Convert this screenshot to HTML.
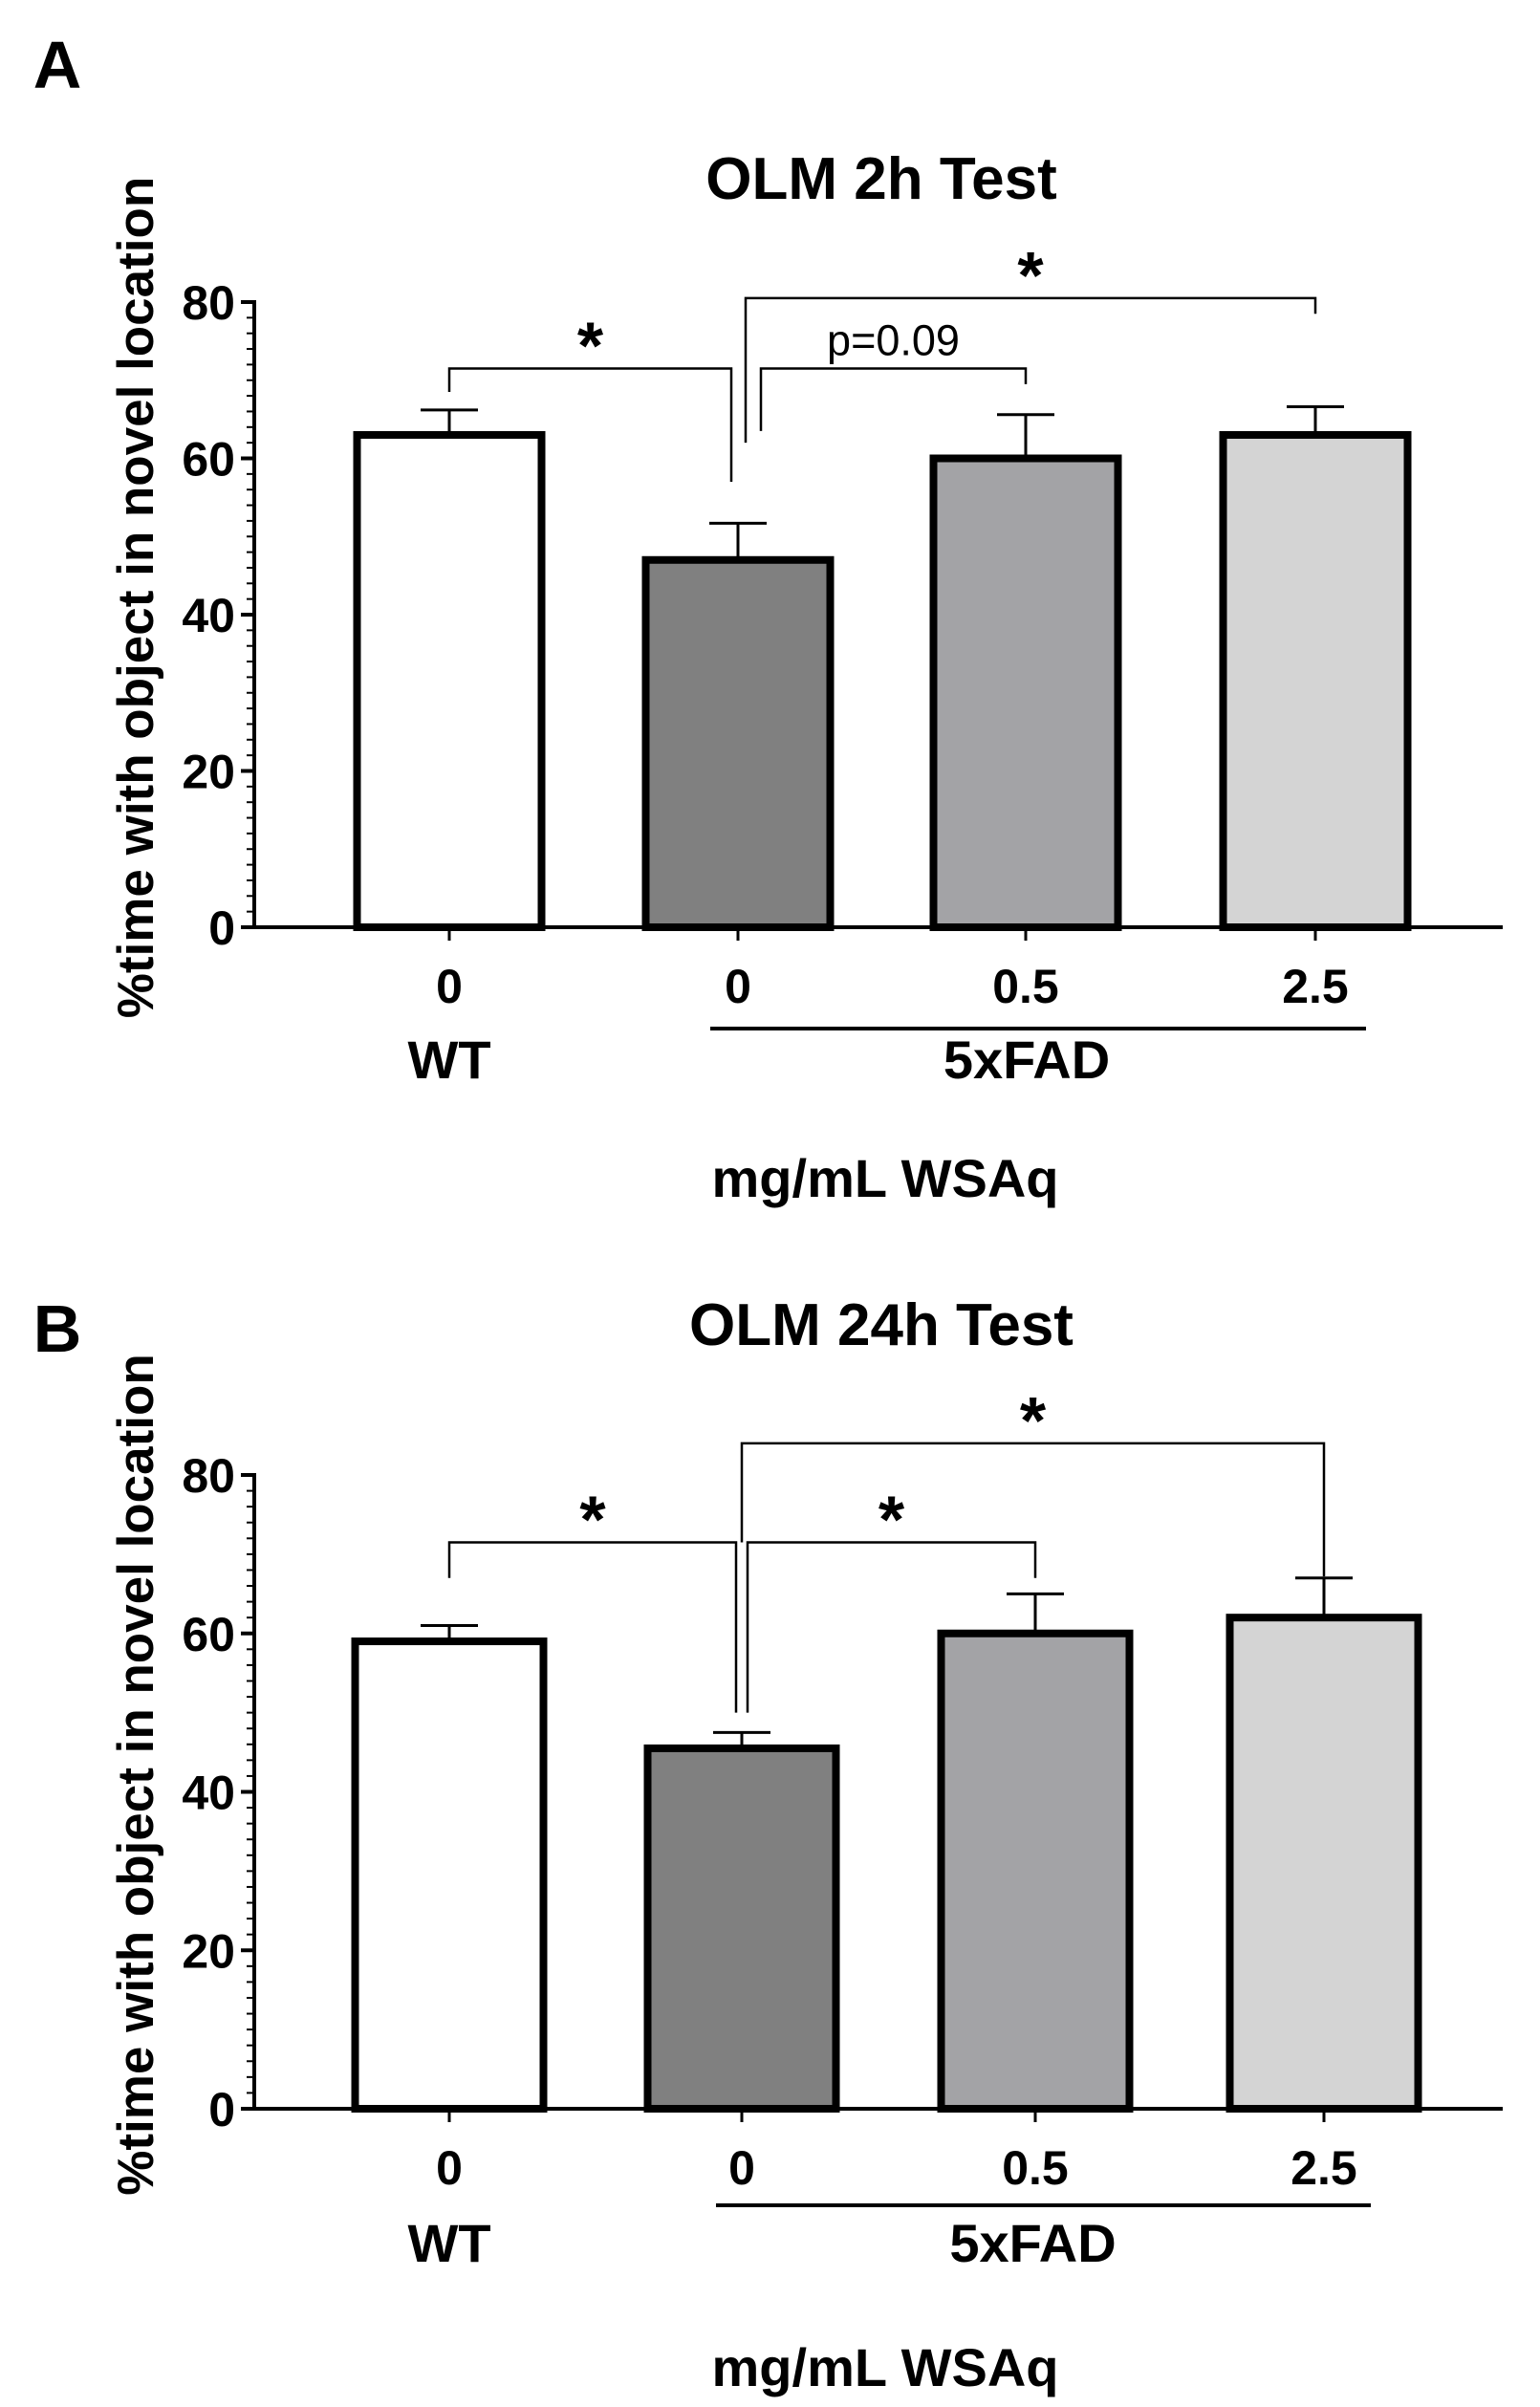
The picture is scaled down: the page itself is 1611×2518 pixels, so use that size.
<!DOCTYPE html>
<html><head><meta charset="utf-8">
<style>
html,body{margin:0;padding:0;background:#fff;}
svg{display:block;font-family:"Liberation Sans",Arial,sans-serif;}
</style></head>
<body>
<svg id="fig" width="1611" height="2518" viewBox="0 0 1611 2518" xmlns="http://www.w3.org/2000/svg">
<rect width="1611" height="2518" fill="#fff"/>
</svg>
<script>
const categories = ["0","0","0.5","2.5"];
const fills = ["#ffffff","#808080","#a3a3a6","#d4d4d4"];
const yTicks = [0,20,40,60,80];
const meansA = [63,47,60,63];
const errA = [66.2,51.7,65.6,66.6];
const meansB = [59,45.5,60,62];
const errB = [61,47.5,65,67];
// brackets: [fromIdx, toIdx, level, leftDrop, rightDrop, label]
const bracketsA = [[0,1,71.5,68.5,57,"*"],[1,2,71.5,63.5,69.5,"p=0.09"],[1,3,80.5,62,78.5,"*"]];
const bracketsB = [[0,1,71.5,67,50,"*"],[1,2,71.5,50,67,"*"],[1,3,84,71.5,67.2,"*"]];

const NS="http://www.w3.org/2000/svg";
const svg=document.getElementById('fig');
function mk(tag,attrs,parent,text){const e=document.createElementNS(NS,tag);for(const k in attrs)e.setAttribute(k,attrs[k]);if(text!==undefined)e.textContent=text;(parent||svg).appendChild(e);return e;}

function panel(cfg){
  const g=mk('g',{});
  
  
  const y=v=>cfg.y0-(v/80)*(cfg.y0-cfg.y80);
  const x=i=>cfg.centers[i];
  const L=mk('text',{x:60,y:cfg.letterY,'font-size':70,'font-weight':'bold','text-anchor':'middle'},g,cfg.letter);
  
  
  const t=mk('text',{x:922,y:cfg.titleY,'font-size':62,'font-weight':'bold','text-anchor':'middle'},g,cfg.title);
  
  
  const ya=mk('line',{x1:266,y1:y(80)-2,x2:266,y2:y(0)+2,stroke:'#000','stroke-width':4},g);
  
  
  for(let v=0;v<=80;v+=2){
    const major=yTicks.includes(v);
    mk('line',{x1:major?252:258,y1:y(v),x2:266,y2:y(v),stroke:'#000','stroke-width':major?4:2},g);
  }
  yTicks.forEach(v=>{
    const tl=mk('text',{x:246,y:y(v)+18,'font-size':50,'font-weight':'bold','text-anchor':'end'},g,String(v));
    
    
  });
  const yt=mk('text',{x:0,y:0,'font-size':53,'font-weight':'bold','text-anchor':'middle',transform:`translate(160,${(y(0)+y(80))/2-18}) rotate(-90)`},g,'%time with object in novel location');
  
  
  cfg.means.forEach((m,i)=>{
    const w=cfg.bw;
    const eb=mk('line',{x1:x(i),y1:y(m),x2:x(i),y2:y(cfg.err[i]),stroke:'#000','stroke-width':3},g);
    
    
    mk('line',{x1:x(i)-30,y1:y(cfg.err[i]),x2:x(i)+30,y2:y(cfg.err[i]),stroke:'#000','stroke-width':3},g);
    const b=mk('rect',{x:x(i)-w/2,y:y(m),width:w,height:y(0)-y(m),fill:fills[i],stroke:'#000','stroke-width':8},g);
    
    
    mk('line',{x1:x(i),y1:y(0),x2:x(i),y2:y(0)+14,stroke:'#000','stroke-width':3},g);
    const cl=mk('text',{x:x(i),y:cfg.tickY,'font-size':50,'font-weight':'bold','text-anchor':'middle'},g,categories[i]);
    
    
  });
  const xa=mk('line',{x1:264,y1:y(0),x2:1572,y2:y(0),stroke:'#000','stroke-width':4},g);
  
  
  const gl=mk('line',{x1:cfg.lineX1,y1:cfg.lineY,x2:cfg.lineX2,y2:cfg.lineY,stroke:'#000','stroke-width':4},g);
  
  
  const wt=mk('text',{x:x(0),y:cfg.groupY,'font-size':56,'font-weight':'bold','text-anchor':'middle'},g,'WT');
  
  
  const fd=mk('text',{x:(x(1)+x(3))/2,y:cfg.groupY,'font-size':56,'font-weight':'bold','text-anchor':'middle'},g,'5xFAD');
  
  
  const xt=mk('text',{x:926,y:cfg.xTitleY,'font-size':56,'font-weight':'bold','text-anchor':'middle'},g,'mg/mL WSAq');
  
  
  cfg.brackets.forEach((br,k)=>{
    const xl=x(br[0])+cfg.bOff[k][0], xr=x(br[1])+cfg.bOff[k][1];
    const p=mk('path',{d:`M${xl},${y(br[3])} V${y(br[2])} H${xr} V${y(br[4])}`,fill:'none',stroke:'#000','stroke-width':2.5},g);
    
    
    const star=br[5]==='*';
    const lx=(xl+xr)/2;
    const lt=mk('text',{x:lx,y:y(br[2])-(star?0:14),'font-size':star?70:45,'font-weight':star?'bold':'normal','text-anchor':'middle'},g,br[5]);
    
    
  });
}

panel({name:'panel-a',letter:'A',letterY:92,title:'OLM 2h Test',titleY:208,y0:970,y80:316,centers:[470,772,1073,1376],bw:193,
  means:meansA,err:errA,brackets:bracketsA,bOff:[[0,-7],[24,0],[8,0]],tickY:1049,lineX1:743,lineX2:1429,lineY:1076,groupY:1128,xTitleY:1252});
panel({name:'panel-b',letter:'B',letterY:1414,title:'OLM 24h Test',titleY:1407,y0:2206,y80:1543,centers:[470,776,1083,1385],bw:197,
  means:meansB,err:errB,brackets:bracketsB,bOff:[[0,-6],[6,0],[0,0]],tickY:2285,lineX1:749,lineX2:1434,lineY:2307,groupY:2366,xTitleY:2496});
</script>
</body></html>
